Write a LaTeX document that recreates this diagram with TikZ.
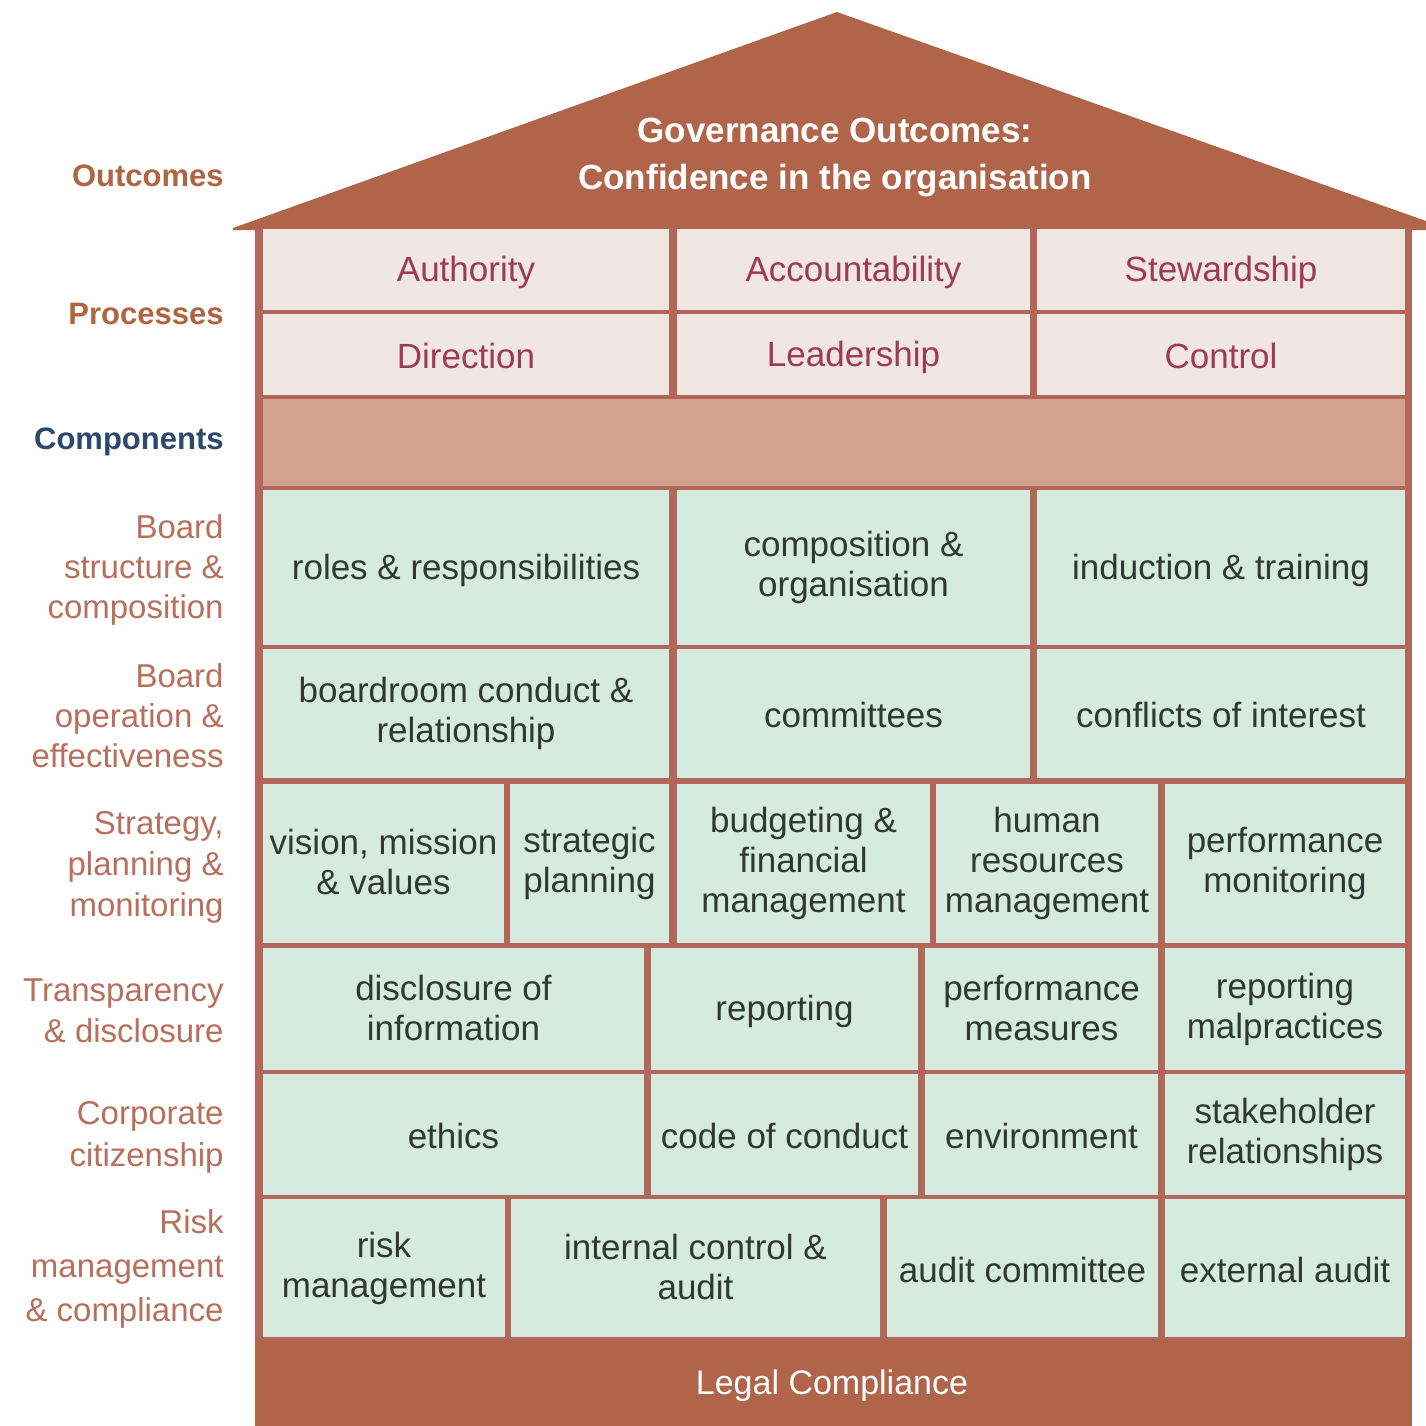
\documentclass[tikz,border=0pt]{standalone}
\usepackage{fontspec}
\setmainfont{Liberation Sans}
\definecolor{roof}{HTML}{B0654A}
\definecolor{divider}{HTML}{B2675A}
\definecolor{proc}{HTML}{F1E7E2}
\definecolor{band}{HTML}{D3A28D}
\definecolor{comp}{HTML}{D6EBDF}
\definecolor{proctext}{HTML}{9E3A58}
\definecolor{comptext}{HTML}{2F3835}
\definecolor{lbl}{HTML}{B86F5C}
\definecolor{lblhead}{HTML}{B06440}
\definecolor{lblblue}{HTML}{2D4A6E}
\newcommand\vstrut{\rule[-1.5pt]{0pt}{17pt}}
\newcommand\Cell[8]{%
  \fill[#6] (#2,#3) rectangle (#4,#5);
  \node[#7] (#1) at ({(#2+#4)/2},{(#3+#5)/2}) {#8};}
\begin{document}
\begin{tikzpicture}[x=0.5pt,y=-0.5pt,
  balanced/.style={execute at begin node=\vstrut, execute at end node=\vstrut},
  ptext/.style={balanced, text=proctext, font=\fontsize{17.5}{20}\selectfont, align=center, inner sep=0pt},
  ctext/.style={balanced, text=comptext, font=\fontsize{17.5}{20}\selectfont, align=center, inner sep=0pt},
  lab/.style={balanced, anchor=east, align=right, text=lbl, font=\fontsize{16.5}{20}\selectfont, inner sep=0pt},
  labhead/.style={balanced, anchor=east, text=lblhead, font=\bfseries\fontsize{15.5}{19}\selectfont, inner sep=0pt},
  whitetext/.style={balanced, text=white, align=center, inner sep=0pt}]
\useasboundingbox (0,0) rectangle (1426,1426);
\fill[white] (0,0) rectangle (1426,1426);
% roof
\fill[roof] (233,228) -- (837,12) -- (1426,221) -- (1426,230) -- (233,230) -- cycle;
\node[whitetext, font=\bfseries\fontsize{17.5}{23.5}\selectfont] (title) at (835,157)
  {Governance Outcomes:\\Confidence in the organisation};
% body
\fill[divider] (255,228) rectangle (1412,1340);
% processes
\Cell{auth}{263}{229}{669}{310}{proc}{ptext}{Authority}
\Cell{acct}{677}{229}{1030}{310}{proc}{ptext}{Accountability}
\Cell{stew}{1037}{229}{1405}{310}{proc}{ptext}{Stewardship}
\Cell{dir}{263}{314}{669}{395}{proc}{ptext}{Direction}
\Cell{lead}{677}{314}{1030}{395}{proc}{ptext}{Leadership}
\Cell{ctrl}{1037}{314}{1405}{395}{proc}{ptext}{Control}
% components band
\fill[band] (263,399) rectangle (1405,486);
% board structure
\Cell{roles}{263}{490}{669}{645}{comp}{ctext}{roles \& responsibilities}
\Cell{compo}{677}{490}{1030}{645}{comp}{ctext}{composition \&\\organisation}
\Cell{induct}{1037}{490}{1405}{645}{comp}{ctext}{induction \& training}
% board operation
\Cell{boardroom}{263}{649}{669}{778}{comp}{ctext}{boardroom conduct \&\\relationship}
\Cell{committees}{677}{649}{1030}{778}{comp}{ctext}{committees}
\Cell{conflicts}{1037}{649}{1405}{778}{comp}{ctext}{conflicts of interest}
% strategy
\Cell{vision}{263}{784}{504}{943}{comp}{ctext}{vision, mission\\\& values}
\Cell{stratplan}{510}{784}{669}{943}{comp}{ctext}{strategic\\planning}
\Cell{budget}{677}{784}{930}{943}{comp}{ctext}{budgeting \&\\financial\\management}
\Cell{human}{936}{784}{1158}{943}{comp}{ctext}{human\\resources\\management}
\Cell{perfmon}{1165}{784}{1405}{943}{comp}{ctext}{performance\\monitoring}
% transparency
\Cell{disclosure}{263}{948}{644}{1070}{comp}{ctext}{disclosure of\\information}
\Cell{reporting}{651}{948}{918}{1070}{comp}{ctext}{reporting}
\Cell{perfmeas}{925}{948}{1158}{1070}{comp}{ctext}{performance\\measures}
\Cell{malpr}{1165}{948}{1405}{1070}{comp}{ctext}{reporting\\malpractices}
% corporate citizenship
\Cell{ethics}{263}{1074}{644}{1195}{comp}{ctext}{ethics}
\Cell{code}{651}{1074}{918}{1195}{comp}{ctext}{code of conduct}
\Cell{environment}{925}{1074}{1158}{1195}{comp}{ctext}{environment}
\Cell{stakeholder}{1165}{1074}{1405}{1195}{comp}{ctext}{stakeholder\\relationships}
% risk
\Cell{riskm}{263}{1199}{505}{1337}{comp}{ctext}{risk\\management}
\Cell{internal}{511}{1199}{880}{1337}{comp}{ctext}{internal control \&\\audit}
\Cell{auditcom}{887}{1199}{1158}{1337}{comp}{ctext}{audit committee}
\Cell{extaudit}{1165}{1199}{1405}{1337}{comp}{ctext}{external audit}
% legal compliance
\fill[roof] (255,1340) rectangle (1412,1426);
\node[whitetext, font=\fontsize{17}{20}\selectfont] (legal) at (832,1383) {Legal Compliance};
% left labels
\node[labhead] (lout) at (224,172) {Outcomes};
\node[labhead] (lproc) at (224,310) {Processes};
\node[labhead, text=lblblue] (lcomp) at (224,437) {Components};
\node[lab] (lbs) at (224,570) {Board\\structure \&\\composition};
\node[lab] (lbo) at (224,717) {Board\\operation \&\\effectiveness};
\node[lab, font=\fontsize{16.5}{20.5}\selectfont] (lstrat) at (224,867) {Strategy,\\planning \&\\monitoring};
\node[lab, font=\fontsize{16.5}{20.5}\selectfont] (ltrans) at (224,1012) {Transparency\\\& disclosure};
\node[lab, font=\fontsize{16.5}{21}\selectfont] (lcorp) at (224,1137) {Corporate\\citizenship};
\node[lab, font=\fontsize{16.5}{22}\selectfont] (lrisk) at (224,1269) {Risk\\management\\\& compliance};
\end{tikzpicture}
\end{document}
